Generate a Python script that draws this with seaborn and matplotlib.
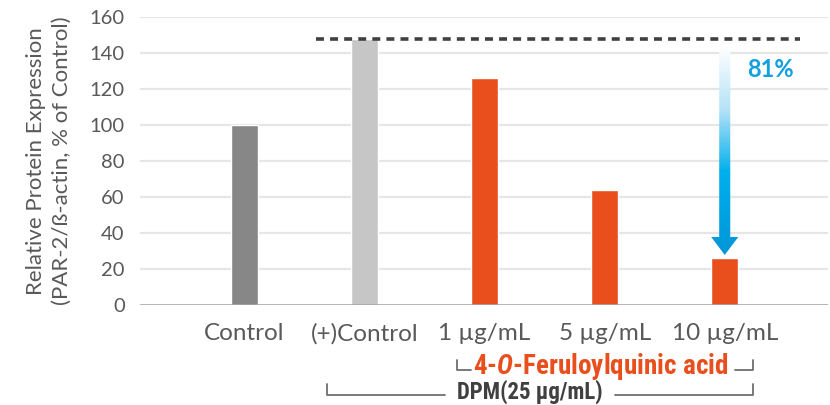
import numpy as np
import pandas as pd
import matplotlib
matplotlib.use("Agg")
import matplotlib.pyplot as plt
import seaborn as sns
from matplotlib.patches import Polygon
from matplotlib.colors import LinearSegmentedColormap
from matplotlib.lines import Line2D
from matplotlib import font_manager

categories = ["Control", "(+)Control", "1 µg/mL", "5 µg/mL", "10 µg/mL"]
values = [100, 148, 126, 64, 26]
bar_colors = ["#878787", "#C6C6C6", "#E94F1D", "#E94F1D", "#E94F1D"]
yticks = [0, 20, 40, 60, 80, 100, 120, 140, 160]
reduction_label = "81%"
compound_label = r"4-$\mathit{O}$-Feruloylquinic acid"
dpm_label = "DPM(25 µg/mL)"
ylabel = "Relative Protein Expression\n(PAR-2/ß-actin, % of Control)"

avail = {f.name for f in font_manager.fontManager.ttflist}
narrow = next((n for n in ["Liberation Sans Narrow", "Roboto Condensed", "DejaVu Sans Condensed", "Roboto"]
               if n in avail), "DejaVu Sans")
narrow_scale = 1.0 if narrow in ("Liberation Sans Narrow", "Roboto Condensed") else 0.84

sns.set_theme(style="white")
plt.rcParams["font.family"] = ["Lato", "DejaVu Sans"]
plt.rcParams["mathtext.fontset"] = "custom"
plt.rcParams["mathtext.it"] = f"{narrow}:italic:bold"
plt.rcParams["mathtext.rm"] = f"{narrow}:bold"
plt.rcParams["mathtext.bf"] = f"{narrow}:bold"

W, H = 830, 405
fig = plt.figure(figsize=(W / 100, H / 100), dpi=100)
ax = fig.add_axes([140 / W, (H - 305) / H, (828 - 140) / W, (305 - 17) / H])

df = pd.DataFrame({"cat": categories, "val": values})
sns.barplot(data=df, x="cat", y="val", hue="cat", palette=bar_colors,
            width=0.225, legend=False, ax=ax, saturation=1)

ax.set_ylim(0, 160)
ax.set_xlim(-0.87, 4.86)
ax.set_yticks(yticks)
ax.set_yticklabels([str(t) for t in yticks])
for t in yticks[1:]:
    ax.axhline(t, color="#E6E6E6", lw=1.6, zorder=0)
ax.axhline(0, color="#A0A0A0", lw=1.8, zorder=3)
for s in ax.spines.values():
    s.set_visible(False)
ax.tick_params(axis="y", length=0, pad=11, labelsize=14.5, labelcolor="#595959")
ax.tick_params(axis="x", length=0, pad=13, labelsize=17.5, labelcolor="#595959")
ax.set_xlabel("")
ax.set_ylabel(ylabel, fontsize=16, color="#595959", labelpad=13, linespacing=1.35)

# dashed reference line at (+)Control level
ref = values[1]
ax.plot([0.596, 4.63], [ref, ref], ls=(0, (2.2, 1.7)), color="#404040", lw=2.6, zorder=4)

# gradient arrow from reference level down to the 10 µg/mL bar
xc = 4
top = ref - 5
tip = values[4] + 1.8
head_top = tip + 10
sw, hw = 0.046, 0.113
poly_pts = [(xc - sw, top), (xc + sw, top), (xc + sw, head_top), (xc + hw, head_top),
            (xc, tip), (xc - hw, head_top), (xc - sw, head_top)]
poly = Polygon(poly_pts, closed=True, transform=ax.transData, facecolor="none", edgecolor="none")
ax.add_patch(poly)
cmap = LinearSegmentedColormap.from_list(
    "arr", [(0.0, (1, 1, 1, 1)), (0.3, "#B5E2F8"), (0.6, "#00B0EC"), (1.0, "#0096D8")])
grad = np.linspace(0, 1, 256).reshape(-1, 1)
im = ax.imshow(grad, cmap=cmap, aspect="auto", origin="upper",
               extent=(xc - hw, xc + hw, tip, top), zorder=5, interpolation="bilinear")
im.set_clip_path(poly)
ax.set_xlim(-0.87, 4.86)
ax.set_ylim(0, 160)

ax.text(4.38, 131, reduction_label, color="#139FE0", fontsize=17, fontweight="bold",
        ha="center", va="center", zorder=6)

# brackets below the axis (figure pixel coords)
def fx(x):
    return x / W

def fy(y):
    return (H - y) / H

gray = "#6E6E6E"
orange = "#E94F1D"
for xs, ys in [([457, 457, 471], [360, 370, 370]), ([735, 753, 753], [370, 370, 360])]:
    fig.add_artist(Line2D([fx(v) for v in xs], [fy(v) for v in ys], color=gray, lw=1.3))
fig.text(fx(601), fy(366), compound_label, color=orange, fontsize=19.5 * narrow_scale,
         fontfamily=narrow, fontweight="bold", ha="center", va="center")
for xs, ys in [([327, 327, 445], [384, 395, 395]), ([615, 753, 753], [395, 395, 384])]:
    fig.add_artist(Line2D([fx(v) for v in xs], [fy(v) for v in ys], color=gray, lw=1.3))
fig.text(fx(530), fy(392), dpm_label, color="#404040", fontsize=16.5 * narrow_scale,
         fontfamily=narrow, fontweight="bold", ha="center", va="center")

fig.savefig("out.png", dpi=100)
